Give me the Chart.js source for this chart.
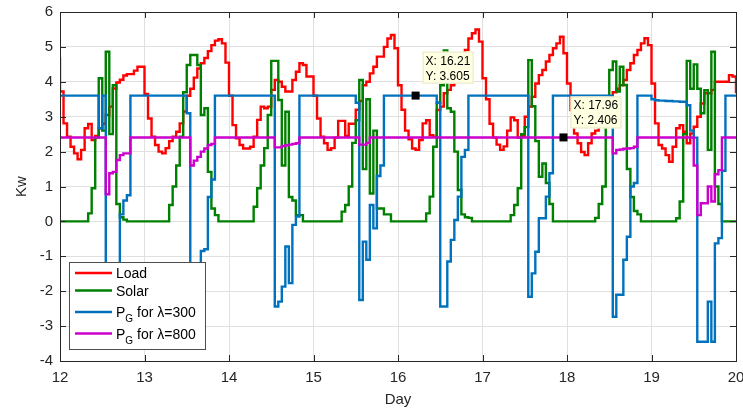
<!DOCTYPE html>
<html>
<head>
<meta charset="utf-8">
<script src="https://cdn.jsdelivr.net/npm/chart.js@4.4.1/dist/chart.umd.min.js"></script>
<style>
  html, body { margin: 0; padding: 0; background: #fff; }
  canvas { display: block; }
</style>
</head>
<body>
<canvas id="chart" width="743" height="413"></canvas>
<script>
// Hourly samples in kW, from hour -1 (day 11, 23:00) to hour 192 (day 20, 00:00).
// One row per day after the leading sample.
const load = [4.67,
  3.72, 2.81, 2.43, 2.14, 1.95, 1.78, 2.05, 2.67, 2.79, 2.33, 2.45, 2.67, 2.8, 3.05, 3.29, 3.81, 3.98, 4.06, 4.18, 4.22, 4.22, 4.32, 4.43, 4.43,
  3.65, 2.95, 2.43, 2.19, 2.0, 1.95, 2.1, 2.3, 2.43, 2.57, 2.81, 3.15, 3.6, 3.8, 4.12, 4.38, 4.53, 4.68, 4.88, 5.05, 5.18, 5.22, 5.1, 4.55,
  3.6, 2.76, 2.38, 2.19, 2.09, 2.09, 2.14, 2.43, 2.91, 3.29, 3.24, 3.29, 3.77, 4.05, 4.0, 3.86, 3.72, 3.72, 4.05, 4.29, 4.53, 4.48, 4.15, 4.15,
  3.6, 2.95, 2.43, 2.24, 2.05, 2.1, 2.4, 2.88, 2.88, 2.45, 2.8, 2.8, 3.2, 3.45, 3.9, 4.0, 4.24, 4.43, 4.72, 4.72, 5.0, 5.24, 5.34, 4.96,
  3.9, 3.2, 2.6, 2.35, 2.09, 2.05, 2.33, 2.81, 2.9, 2.47, 2.43, 3.19, 3.29, 3.67, 3.77, 3.9, 4.0, 4.1, 4.4, 4.91, 5.24, 5.39, 5.5, 5.15,
  4.1, 3.5, 2.8, 2.4, 2.2, 2.05, 2.15, 2.6, 2.98, 2.9, 2.4, 2.45, 3.0, 3.29, 3.57, 3.95, 4.19, 4.34, 4.58, 4.77, 4.96, 5.1, 5.29, 4.82,
  3.95, 3.19, 2.52, 2.24, 1.99, 1.9, 2.24, 2.52, 2.6, 2.9, 3.2, 3.2, 3.5, 3.7, 3.8, 3.9, 4.05, 4.34, 4.53, 4.77, 4.91, 5.1, 5.25, 5.05,
  3.95, 2.81, 2.19, 2.09, 1.9, 1.71, 2.14, 2.67, 2.76, 2.57, 2.24, 2.52, 2.71, 3.0, 3.38, 3.67, 3.67, 3.77, 4.0, 4.0, 4.0, 4.0, 4.19, 4.15,
  3.67];

const solar = [0,
  0, 0, 0, 0, 0, 0, 0, 0, 0.23, 0.95, 2.4, 4.1, 2.6, 4.86, 2.5, 3.9, 0.5, 0.12, 0.05, 0, 0, 0, 0, 0,
  0, 0, 0, 0, 0, 0, 0, 0.47, 1.0, 1.6, 2.43, 3.7, 4.48, 4.77, 4.77, 4.48, 3.05, 3.24, 1.42, 0.37, 0.18, 0, 0, 0,
  0, 0, 0, 0, 0, 0, 0, 0.42, 0.95, 1.6, 2.1, 3.05, 4.6, 4.6, 3.48, 1.6, 3.14, 0.7, 0.6, 0.18, 0.18, 0, 0, 0,
  0, 0, 0, 0, 0, 0, 0, 0, 0.28, 0.47, 1.0, 2.25, 2.9, 4.05, 1.5, 3.5, 0.8, 2.6, 0.37, 0.37, 0.2, 0.2, 0, 0,
  0, 0, 0, 0, 0, 0, 0, 0, 0.23, 0.71, 2.14, 3.4, 3.9, 4.9, 3.24, 3.14, 2.0, 0.9, 0.2, 0.12, 0.1, 0, 0, 0,
  0, 0, 0, 0, 0, 0, 0, 0, 0.18, 0.47, 0.95, 2.5, 2.7, 4.62, 3.3, 2.3, 1.28, 1.66, 1.1, 0.5, 0, 0, 0, 0,
  0, 0, 0, 0, 0, 0, 0, 0, 0.1, 0.5, 1.0, 3.2, 4.34, 4.58, 3.72, 4.43, 3.91, 1.5, 0.7, 0.3, 0.2, 0, 0, 0,
  0, 0, 0, 0, 0, 0, 0, 0.09, 0.57, 2.5, 4.6, 3.8, 4.5, 3.8, 3.1, 3.76, 2.05, 4.86, 1.0, 0.5, 0, 0, 0, 0,
  0];

const gridPower300 = [3.605,
  3.605, 3.605, 3.605, 3.605, 3.605, 3.605, 3.605, 3.605, 3.605, 3.605, 3.605, 2.67, 3.605, -2.5, -2.2, -1.6, -1.3, 0.2, 0.6, 0.75, 3.605, 3.605, 3.605, 3.605,
  3.605, 3.605, 3.605, 3.605, 3.605, 3.605, 3.605, 3.605, 3.605, 3.605, 3.605, 3.605, 3.1, -2.3, -2.0, -1.8, -0.85, -0.8, 0.7, 1.2, 3.605, 3.605, 3.605, 3.605,
  3.605, 3.605, 3.605, 3.605, 3.605, 3.605, 3.605, 3.605, 3.605, 3.605, 3.605, 3.605, 3.605, -2.44, -2.3, -1.87, -0.72, -1.77, -0.1, 0.14, 3.605, 3.605, 3.605, 3.605,
  3.605, 3.605, 3.605, 3.605, 3.605, 3.605, 3.605, 3.605, 3.605, 3.605, 3.605, 3.605, 3.4, -2.25, -0.58, -1.1, 0.47, -0.2, 1.3, 1.6, 3.605, 3.605, 3.605, 3.605,
  3.605, 3.605, 3.605, 3.605, 3.605, 3.605, 3.605, 3.605, 3.605, 3.605, 3.605, 3.4, -2.44, -2.44, -1.15, -0.53, 0.04, 0.71, 1.85, 2.05, 3.605, 3.605, 3.605, 3.605,
  3.605, 3.605, 3.605, 3.605, 3.605, 3.605, 3.605, 3.605, 3.605, 3.605, 3.605, 3.605, 3.605, -2.16, -1.49, -0.87, 0.09, 0.09, 0.71, 1.38, 3.605, 3.605, 3.605, 3.605,
  3.605, 3.605, 3.605, 3.605, 3.605, 3.605, 3.605, 3.605, 3.605, 3.605, 3.605, 3.605, 3.605, -2.73, -2.1, -2.1, -1.1, -0.44, 1.0, 1.1, 3.605, 3.605, 3.605, 3.605,
  3.5, 3.47, 3.46, 3.46, 3.45, 3.45, 3.44, 3.44, 3.43, 3.43, 3.33, 2.6, 2.4, -3.45, -3.45, -3.45, -2.3, -3.45, -0.63, -0.48, 1.45, 3.605, 3.605, 3.605,
  3.605];

const gridPower800 = [2.406,
  2.406, 2.406, 2.406, 2.406, 2.406, 2.406, 2.406, 2.406, 2.406, 2.406, 2.406, 2.406, 2.406, 0.78, 1.38, 1.42, 1.76, 1.9, 1.95, 1.95, 2.406, 2.406, 2.406, 2.406,
  2.406, 2.406, 2.406, 2.406, 2.406, 2.406, 2.406, 2.406, 2.406, 2.406, 2.406, 2.406, 2.406, 1.6, 1.74, 1.85, 2.0, 2.09, 2.19, 2.22, 2.406, 2.406, 2.406, 2.406,
  2.406, 2.406, 2.406, 2.406, 2.406, 2.406, 2.406, 2.406, 2.406, 2.406, 2.406, 2.406, 2.406, 2.12, 2.12, 2.16, 2.18, 2.2, 2.22, 2.24, 2.406, 2.406, 2.406, 2.406,
  2.406, 2.406, 2.406, 2.406, 2.406, 2.406, 2.406, 2.406, 2.406, 2.406, 2.406, 2.406, 2.406, 2.2, 2.2, 2.25, 2.406, 2.406, 2.406, 2.406, 2.406, 2.406, 2.406, 2.406,
  2.406, 2.406, 2.406, 2.406, 2.406, 2.406, 2.406, 2.406, 2.406, 2.406, 2.406, 2.406, 2.406, 2.406, 2.406, 2.406, 2.406, 2.406, 2.406, 2.406, 2.406, 2.406, 2.406, 2.406,
  2.406, 2.406, 2.406, 2.406, 2.406, 2.406, 2.406, 2.406, 2.406, 2.406, 2.406, 2.406, 2.406, 2.406, 2.406, 2.406, 2.406, 2.406, 2.406, 2.406, 2.406, 2.406, 2.406, 2.406,
  2.406, 2.406, 2.406, 2.406, 2.406, 2.406, 2.406, 2.406, 2.406, 2.406, 2.406, 2.406, 2.406, 1.95, 2.05, 2.06, 2.08, 2.09, 2.1, 2.14, 2.406, 2.406, 2.406, 2.406,
  2.406, 2.406, 2.406, 2.406, 2.406, 2.406, 2.406, 2.406, 2.406, 2.406, 2.406, 2.406, 1.6, 0.18, 0.52, 0.52, 1.0, 0.57, 1.35, 1.47, 2.406, 2.406, 2.406, 2.406,
  2.406];

const seriesNames = ["Load", "Solar", "P_G for λ=300", "P_G for λ=800"];
const seriesColors = ["#ff0000", "#008000", "#0072bd", "#cc00cc"];

// data tips pinned on the two grid-power curves: [series index, hour]
const pinnedTips = [[2, 101], [3, 143]];

const fontStack = '"Liberation Sans", Arial, Helvetica, sans-serif';
const axisInk = "#262626";

// sample i sits at hour i - 1
const asPoints = (values) => values.map((v, i) => ({ x: 12 + (i - 1) / 24, y: v }));

// MATLAB-like frame: box, inward ticks on all four sides, legend, data tips
const matlabFrame = {
  id: "matlabFrame",
  afterDatasetsDraw(chart) {
    const { ctx, chartArea: a, scales } = chart;
    const { x, y } = scales;
    ctx.save();
    ctx.strokeStyle = axisInk;
    ctx.lineWidth = 1;
    ctx.beginPath();
    x.ticks.forEach((t) => {
      const px = Math.round(x.getPixelForValue(t.value)) + 0.5;
      ctx.moveTo(px, a.bottom); ctx.lineTo(px, a.bottom - 6);
      ctx.moveTo(px, a.top); ctx.lineTo(px, a.top + 6);
    });
    y.ticks.forEach((t) => {
      const py = Math.round(y.getPixelForValue(t.value)) + 0.5;
      ctx.moveTo(a.left, py); ctx.lineTo(a.left + 6, py);
      ctx.moveTo(a.right, py); ctx.lineTo(a.right - 6, py);
    });
    ctx.stroke();
    ctx.strokeRect(Math.round(a.left) + 0.5, Math.round(a.top) + 0.5,
      Math.round(a.right - a.left), Math.round(a.bottom - a.top));

    // legend
    const lx = a.left + 9, ly = 262, lw = 137, lh = 88;
    ctx.fillStyle = "#ffffff";
    ctx.fillRect(lx, ly, lw, lh);
    ctx.strokeStyle = "#4d4d4d";
    ctx.strokeRect(lx + 0.5, ly + 0.5, lw - 1, lh - 1);
    const rows = [273, 290.5, 312, 333.5];
    seriesNames.forEach((name, i) => {
      const ry = rows[i];
      ctx.strokeStyle = seriesColors[i];
      ctx.lineWidth = 2.4;
      ctx.beginPath();
      ctx.moveTo(lx + 6, ry); ctx.lineTo(lx + 43, ry);
      ctx.stroke();
      ctx.fillStyle = "#000";
      ctx.textBaseline = "alphabetic";
      ctx.font = `14px ${fontStack}`;
      let tx = lx + 47;
      if (name.startsWith("P_G")) {
        ctx.fillText("P", tx, ry + 5);
        tx += ctx.measureText("P").width;
        ctx.font = `10px ${fontStack}`;
        ctx.fillText("G", tx, ry + 10);
        tx += ctx.measureText("G").width;
        ctx.font = `14px ${fontStack}`;
        ctx.fillText(name.slice(3), tx, ry + 5);
      } else {
        ctx.fillText(name, tx, ry + 5);
      }
    });

    // data tips
    pinnedTips.forEach(([ds, hour], k) => {
      const v = chart.data.datasets[ds].data[hour + 1];
      const mx = x.getPixelForValue(v.x);
      const my = y.getPixelForValue(v.y);
      const bx = mx + 7, by = my - (k === 0 ? 44 : 41);
      ctx.fillStyle = "#ffffe1";
      ctx.fillRect(bx, by, 51, 32);
      ctx.strokeStyle = "#e6e6c8";
      ctx.lineWidth = 1;
      ctx.strokeRect(bx + 0.5, by + 0.5, 50, 31);
      ctx.fillStyle = "#000";
      ctx.font = `12px ${fontStack}`;
      ctx.fillText(`X: ${v.x.toFixed(2)}`, bx + 3, by + 13);
      ctx.fillText(`Y: ${v.y.toFixed(3)}`, bx + 3, by + 28);
      ctx.fillRect(mx - 4, my - 4, 8, 8);
    });
    ctx.restore();
  },
};

const datasets = [load, solar, gridPower300, gridPower800].map((values, i) => ({
  label: seriesNames[i],
  data: asPoints(values),
  borderColor: seriesColors[i],
  borderWidth: 2.4,
  pointRadius: 0,
  stepped: true,
  order: 4 - i,
}));

new Chart(document.getElementById("chart"), {
  type: "line",
  data: { datasets },
  options: {
    responsive: false,
    animation: false,
    devicePixelRatio: 1,
    layout: { padding: { top: 12, right: 7, left: 0, bottom: 0 } },
    plugins: { legend: { display: false }, tooltip: { enabled: false } },
    scales: {
      x: {
        type: "linear",
        min: 12,
        max: 20,
        ticks: { stepSize: 1, padding: 8, color: axisInk, font: { size: 15, family: fontStack } },
        grid: { color: "#e0e0e0", drawTicks: false },
        border: { display: false },
        title: { display: true, text: "Day", color: axisInk, font: { size: 15, family: fontStack }, padding: { top: 0, bottom: 4 } },
        afterFit: (s) => { s.height = 52; s.paddingLeft = 0; s.paddingRight = 0; },
      },
      y: {
        min: -4,
        max: 6,
        ticks: { stepSize: 1, padding: 7, color: axisInk, font: { size: 15, family: fontStack } },
        grid: { color: "#e0e0e0", drawTicks: false },
        border: { display: false },
        title: { display: true, text: "Kw", color: axisInk, font: { size: 15, family: fontStack }, padding: { top: 13, bottom: 0 } },
        afterFit: (s) => { s.width = 60; s.paddingTop = 0; s.paddingBottom = 0; },
      },
    },
  },
  plugins: [matlabFrame],
});
</script>
</body>
</html>
